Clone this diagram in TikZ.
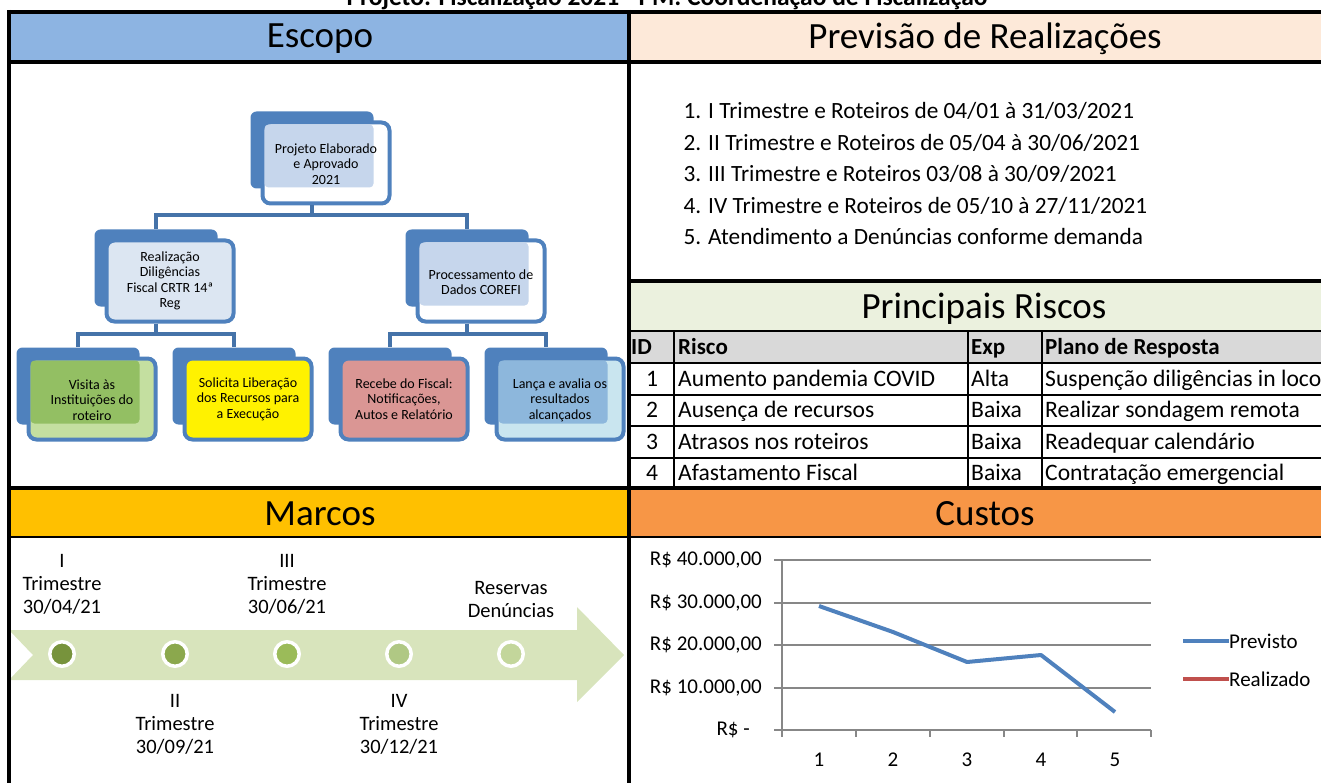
\documentclass[tikz,border=0pt]{standalone}
\usepackage{fontspec}
\setmainfont{Carlito}

\definecolor{escopofill}{HTML}{8DB4E2}
\definecolor{prevfill}{HTML}{FDE9D9}
\definecolor{riscofill}{HTML}{EBF1DE}
\definecolor{headgrey}{HTML}{D9D9D9}
\definecolor{marcofill}{HTML}{FFC000}
\definecolor{custofill}{HTML}{F79646}
\definecolor{orgblue}{HTML}{4F81BD}
\definecolor{linkblue}{HTML}{4573A9}
\definecolor{paleblue}{HTML}{DCE6F2}
\definecolor{dotblue}{HTML}{C6D6EC}
\definecolor{greenlt}{HTML}{C4DFA0}
\definecolor{greendk}{HTML}{93BF63}
\definecolor{rosefill}{HTML}{DA9694}
\definecolor{aqualt}{HTML}{C9E5EF}
\definecolor{aquadk}{HTML}{8DB7DC}
\definecolor{arrowgreen}{HTML}{D8E4BC}
\definecolor{msa}{HTML}{77933C}
\definecolor{msb}{HTML}{8BA84D}
\definecolor{msc}{HTML}{9BBB59}
\definecolor{msd}{HTML}{B0C884}
\definecolor{mse}{HTML}{C3D69B}
\definecolor{gridgrey}{HTML}{878787}
\definecolor{realred}{HTML}{C0504D}

\tikzset{
    bigline/.style={line width=4pt},
    rowline/.style={line width=2.5pt},
    colline/.style={line width=1.5pt},
    hdr/.style={font=\fontsize{37}{40}\selectfont},
    titletext/.style={font=\bfseries\fontsize{25.5}{27}\selectfont, anchor=base},
    orgtab/.style={fill=orgblue, rounded corners=6pt, minimum width=123pt, minimum height=77pt, inner sep=0pt},
    orgcard/.style={draw=orgblue, line width=4pt, rounded corners=8pt, minimum width=127pt, minimum height=81pt, inner sep=0pt},
    orgpatch/.style={rounded corners=4pt, minimum width=109pt, minimum height=63pt, inner sep=0pt},
    orgtext/.style={align=center, font=\fontsize{14}{15.5}\selectfont},
    orglink/.style={draw=linkblue, line width=4pt},
    listtext/.style={anchor=west, align=left, font=\fontsize{23.3}{31.5}\selectfont},
    cellbody/.style={anchor=west, font=\fontsize{23.6}{26}\selectfont, inner sep=0pt, text height=16pt, text depth=5pt},
    cellhead/.style={cellbody, font=\bfseries\fontsize{23}{26}\selectfont},
    mstone/.style={circle, draw=white, line width=3.5pt, minimum size=24.5pt, inner sep=0pt},
    mlabel/.style={align=center, font=\fontsize{20.5}{23}\selectfont},
    gridln/.style={draw=gridgrey, line width=1.5pt},
    axislbl/.style={font=\fontsize{21}{24}\selectfont, inner sep=0pt},
    prevline/.style={draw=orgblue, line width=4pt, line join=round},
    realline/.style={draw=realred, line width=4pt},
}

\begin{document}
\begin{tikzpicture}[x=1pt,y=-1pt]
    \useasboundingbox (0,0) rectangle (1321,783);

    % header bands
    \fill[escopofill] (9,14) rectangle (629,62);
    \fill[prevfill] (629,14) rectangle (1321,62);
    \fill[riscofill] (629,281) rectangle (1321,331);
    \fill[headgrey] (629,331) rectangle (1321,363);
    \fill[marcofill] (9,488) rectangle (629,537);
    \fill[custofill] (629,488) rectangle (1321,537);

    \node[titletext] (title) at (667,6) {Projeto: Fiscalização 2021 - PM: Coordenação de Fiscalização};
    \node[hdr] (escopoH) at (320,39) {Escopo};
    \node[hdr] (prevH) at (985,39) {Previsão de Realizações};
    \node[hdr] (riscoH) at (984,309) {Principais Riscos};
    \node[hdr] (marcoH) at (320,514) {Marcos};
    \node[hdr] (custoH) at (985,514) {Custos};

    % escopo: org chart
    \node[orgtab] (projT) at (312,150) {};
    \node[orgcard, fill=white] (proj) at (326,163) {};
    \node[orgpatch, fill=dotblue] (projP) at (319,156) {};
    \node[orgtext] (projX) at (326,164) {Projeto Elaborado\\e Aprovado\\2021};

    \node[orgtab] (realT) at (156,268) {};
    \node[orgcard, fill=paleblue, orgtext] (real) at (170,281) {Realização\\Diligências\\Fiscal CRTR 14ª\\Reg};

    \node[orgtab] (procT) at (467,268) {};
    \node[orgcard, fill=white] (proc) at (481,281) {};
    \node[orgpatch, fill=dotblue] (procP) at (474,274) {};
    \node[orgtext] (procX) at (481,282) {Processamento de\\Dados COREFI};

    \node[orgtab] (visT) at (78,386) {};
    \node[orgcard, fill=greenlt] (vis) at (92,399) {};
    \node[orgpatch, fill=greendk] (visP) at (85,392) {};
    \node[orgtext] (visX) at (92,400) {Visita às\\Instituições do\\roteiro};

    \node[orgtab] (solT) at (234,386) {};
    \node[orgcard, fill=yellow, orgtext] (sol) at (248,399) {Solicita Liberação\\dos Recursos para\\a Execução};

    \node[orgtab] (recT) at (390,386) {};
    \node[orgcard, fill=rosefill, orgtext] (rec) at (404,399) {Recebe do Fiscal:\\Notificações,\\Autos e Relatório};

    \node[orgtab] (lanT) at (546,386) {};
    \node[orgcard, fill=aqualt] (lan) at (560,399) {};
    \node[orgpatch, fill=aquadk] (lanP) at (553,392) {};
    \node[orgtext] (lanX) at (560,400) {Lança e avalia os\\resultados\\alcançados};

    \draw[orglink] (projT.center |- proj.south) -- ++(0,10) -| (realT.north);
    \draw[orglink] (projT.center |- proj.south) -- ++(0,10) -| (procT.north);
    \draw[orglink] (realT.center |- real.south) -- ++(0,10) -| (visT.north);
    \draw[orglink] (realT.center |- real.south) -- ++(0,10) -| (solT.north);
    \draw[orglink] (procT.center |- proc.south) -- ++(0,10) -| (recT.north);
    \draw[orglink] (procT.center |- proc.south) -- ++(0,10) -| (lanT.north);

    % previsao
    \node[listtext] (plan) at (680,174) {1. I Trimestre e Roteiros de 04/01 à 31/03/2021\\2. II Trimestre e Roteiros de 05/04 à 30/06/2021\\3. III Trimestre e Roteiros 03/08 à 30/09/2021\\4. IV Trimestre e Roteiros de 05/10 à 27/11/2021\\5. Atendimento a Denúncias conforme demanda};

    % riscos table
    \node[cellhead] (hId) at (631,349) {ID};
    \node[cellhead] (hRisco) at (678,349) {Risco};
    \node[cellhead] (hExp) at (971,349) {Exp};
    \node[cellhead] (hPlano) at (1045,349) {Plano de Resposta};
    \node[cellbody, anchor=center] (id1) at (652,381) {1};
    \node[cellbody] (risco1) at (678,381) {Aumento pandemia COVID};
    \node[cellbody] (exp1) at (971,381) {Alta};
    \node[cellbody] (plano1) at (1045,381) {Suspenção diligências in loco};
    \node[cellbody, anchor=center] (id2) at (652,412) {2};
    \node[cellbody] (risco2) at (678,412) {Ausença de recursos};
    \node[cellbody] (exp2) at (971,412) {Baixa};
    \node[cellbody] (plano2) at (1045,412) {Realizar sondagem remota};
    \node[cellbody, anchor=center] (id3) at (652,444) {3};
    \node[cellbody] (risco3) at (678,444) {Atrasos nos roteiros};
    \node[cellbody] (exp3) at (971,444) {Baixa};
    \node[cellbody] (plano3) at (1045,444) {Readequar calendário};
    \node[cellbody, anchor=center] (id4) at (652,475) {4};
    \node[cellbody] (risco4) at (678,475) {Afastamento Fiscal};
    \node[cellbody] (exp4) at (971,475) {Baixa};
    \node[cellbody] (plano4) at (1045,475) {Contratação emergencial};

    \draw[rowline] (629,331) -- (1321,331);
    \draw[rowline] (629,363) -- (1321,363);
    \draw[rowline] (629,395) -- (1321,395);
    \draw[rowline] (629,426) -- (1321,426);
    \draw[rowline] (629,458) -- (1321,458);
    \draw[colline] (674,331) -- (674,488);
    \draw[colline] (968,331) -- (968,488);
    \draw[colline] (1042,331) -- (1042,488);

    % marcos: timeline
    \fill[arrowgreen] (9,630) -- (577,630) -- (577,607) -- (624,655) -- (577,702) -- (577,680) -- (9,680) -- (33,655) -- cycle;
    \node[mstone, fill=msa] (m1) at (62,654) {};
    \node[mstone, fill=msb] (m2) at (175,654) {};
    \node[mstone, fill=msc] (m3) at (287,654) {};
    \node[mstone, fill=msd] (m4) at (399,654) {};
    \node[mstone, fill=mse] (m5) at (511,654) {};
    \node[mlabel] (q1) at (62,584) {I\\Trimestre\\30/04/21};
    \node[mlabel] (q2) at (175,724) {II\\Trimestre\\30/09/21};
    \node[mlabel] (q3) at (287,584) {III\\Trimestre\\30/06/21};
    \node[mlabel] (q4) at (399,724) {IV\\Trimestre\\30/12/21};
    \node[mlabel] (q5) at (511,599) {Reservas\\Denúncias};

    % custos: chart
    \draw[gridln] (774,560) -- (1151,560) (774,603) -- (1151,603) (774,645) -- (1151,645) (774,688) -- (1151,688) (774,730) -- (1151,730);
    \draw[gridln] (782,560) -- (782,737);
    \draw[gridln] (856,730) -- (856,737) (930,730) -- (930,737) (1004,730) -- (1004,737) (1077,730) -- (1077,737) (1151,730) -- (1151,737);
    \draw[prevline] (819,606) -- (893,632) -- (967,662) -- (1041,655) -- (1115,712);

    \node[axislbl, anchor=east] (v40) at (762,560) {R\$ 40.000,00};
    \node[axislbl, anchor=east] (v30) at (762,603) {R\$ 30.000,00};
    \node[axislbl, anchor=east] (v20) at (762,645) {R\$ 20.000,00};
    \node[axislbl, anchor=east] (v10) at (762,688) {R\$ 10.000,00};
    \node[axislbl, anchor=east] (v0) at (750,730) {R\$ -};
    \node[axislbl] (c1) at (819,760) {1};
    \node[axislbl] (c2) at (893,760) {2};
    \node[axislbl] (c3) at (967,760) {3};
    \node[axislbl] (c4) at (1041,760) {4};
    \node[axislbl] (c5) at (1115,760) {5};

    \coordinate (lgA) at (1183,641);
    \coordinate (lgB) at (1183,679);
    \node[axislbl, anchor=west] (lgPrev) at (1229,641) {Previsto};
    \node[axislbl, anchor=west] (lgReal) at (1229,679) {Realizado};
    \draw[prevline] (lgA) -- (lgPrev.west);
    \draw[realline] (lgB) -- (lgReal.west);

    % frame
    \draw[bigline] (7,12) -- (1321,12);
    \draw[bigline] (9,10) -- (9,783);
    \draw[bigline] (629,10) -- (629,783);
    \draw[bigline] (9,62) -- (1321,62);
    \draw[bigline] (629,281) -- (1321,281);
    \draw[bigline] (9,488) -- (1321,488);
    \draw[rowline] (9,537) -- (1321,537);
\end{tikzpicture}
\end{document}
